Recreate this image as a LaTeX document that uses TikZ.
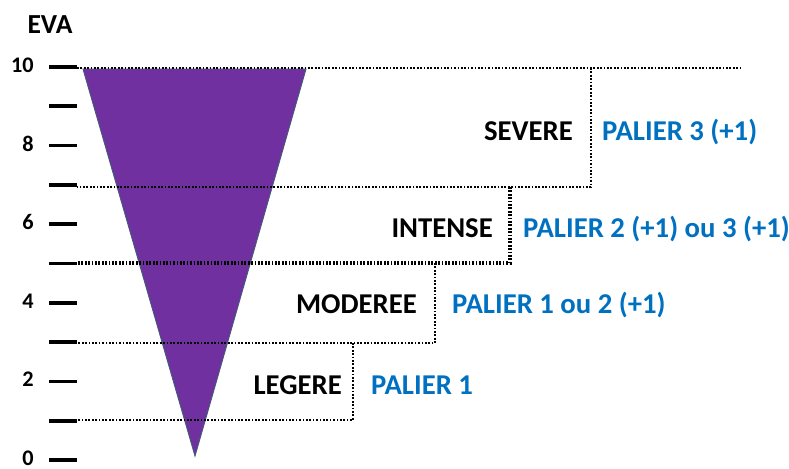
\documentclass[tikz,border=0pt]{standalone}
\usepackage{fontspec}
\setmainfont{Carlito}
\definecolor{evapurple}{RGB}{112,48,160}
\definecolor{evaedge}{RGB}{68,90,120}
\definecolor{palierblue}{RGB}{0,112,192}
\tikzset{
  evatick/.style={line width=3.2pt},
  stepline/.style={line width=2pt, dash pattern=on 1.5pt off 1.4pt},
  evanum/.style={font=\bfseries\fontsize{19}{22}\selectfont, anchor=base east, inner sep=0pt},
  levellabel/.style={font=\bfseries\fontsize{24.5}{28}\selectfont, anchor=base east, inner sep=0pt},
  palier/.style={font=\bfseries\fontsize{24.5}{28}\selectfont, text=palierblue, anchor=base west, inner sep=0pt}
}
\begin{document}
\begin{tikzpicture}[x=0.03cm,y=-0.03cm]
                \useasboundingbox (0,0) rectangle (789,468);
                \fill[white] (0,0) rectangle (789,468);
                \node[font=\bfseries\fontsize{23.5}{28}\selectfont, anchor=base, inner sep=0pt] (eva) at (50,33) {EVA};
                \foreach \v in {0,...,10} {\draw[evatick] (49,{460-39.3*\v}) -- (77,{460-39.3*\v});}
                \foreach \v in {0,2,...,10} {\node[evanum] (n\v) at (34,{465.5-39.3*\v}) {\v};}

                \coordinate (tl) at (83,69); \coordinate (tr) at (306,69); \coordinate (apex) at (195,456);
                \filldraw[fill=evapurple, draw=evaedge, line width=0.8pt] (tl) -- (tr) -- (apex) -- cycle;

                \coordinate (a10) at (77,68); \coordinate (a7) at (77,187); \coordinate (a5) at (77,263); \coordinate (a3) at (77,343); \coordinate (a1) at (77,420);
                \coordinate (end10) at (740,68);
                \coordinate (b7) at (591,68); \coordinate (c7) at (591,187);
                \coordinate (b5) at (510,187); \coordinate (c5) at (510,263);
                \coordinate (b3) at (435,263); \coordinate (c3) at (435,343);
                \coordinate (b1) at (353,343); \coordinate (c1) at (353,420);
                \draw[stepline] (a10) -- (end10);
                \draw[stepline] (b7) -- (c7) -- (a7);
                \draw[stepline, line width=2.6pt] (b5) -- (c5) -- (a5);
                \draw[stepline] (b3) -- (c3) -- (a3);
                \draw[stepline] (b1) -- (c1) -- (a1);

                \node[levellabel] (severe) at (573,140) {SEVERE}; \node[palier] (p3) at (602,140) {PALIER 3 (+1)};
                \node[levellabel] (intense) at (493,237) {INTENSE}; \node[palier] (p2) at (523,237) {PALIER 2 (+1) ou 3 (+1)};
                \node[levellabel] (moderee) at (417,313) {MODEREE}; \node[palier] (p12) at (452,313) {PALIER 1 ou 2 (+1)};
                \node[levellabel] (legere) at (342,394) {LEGERE}; \node[palier] (p1) at (371,394) {PALIER 1};
            \end{tikzpicture}
\end{document}
